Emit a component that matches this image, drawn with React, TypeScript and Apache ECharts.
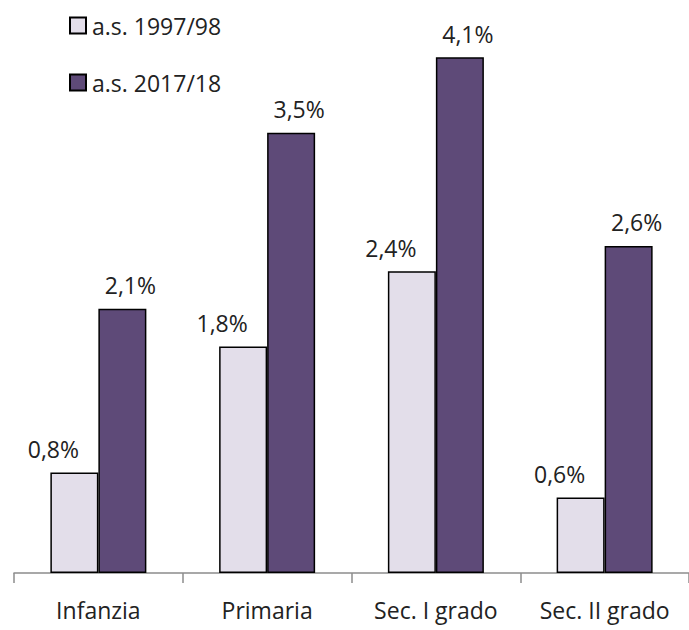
import React, { useEffect, useRef } from "react";
import * as echarts from "echarts";

const categories = ["Infanzia", "Primaria", "Sec. I grado", "Sec. II grado"];
const seriesNames = ["a.s. 1997/98", "a.s. 2017/18"];
const values1997 = [0.8, 1.8, 2.4, 0.6];
const values2017 = [2.1, 3.5, 4.1, 2.6];
const colors = ["#E3DEEA", "#5E4A78"];

const FONT = "'Open Sans', sans-serif";
const FS = 23;

export default function App() {
  const ref = useRef<HTMLDivElement>(null);
  useEffect(() => {
    if (!ref.current) return;
    const chart = echarts.init(ref.current, undefined, { renderer: "svg" });
    const fmt = (p: any) => String(p.value).replace(".", ",") + "%";
    const labelBase = {
      show: true,
      position: "top",
      distance: 12,
      fontFamily: FONT,
      fontSize: FS,
      color: "#222",
      formatter: fmt,
    };
    chart.setOption({
      animation: false,
      legend: {
        orient: "vertical",
        left: 64,
        top: 9,
        itemWidth: 16,
        itemHeight: 16,
        itemGap: 34,
        icon: "rect",
        itemStyle: { borderColor: "#000", borderWidth: 2 },
        textStyle: { fontFamily: FONT, fontSize: FS, color: "#222", padding: [0, 0, 0, 1] },
        data: seriesNames,
      },
      grid: { left: 14, width: 676, top: 7, bottom: 57, containLabel: false },
      xAxis: {
        type: "category",
        data: categories,
        axisLine: { lineStyle: { color: "#8c8c8c", width: 1.5 } },
        axisTick: { show: true, interval: 0, length: 10, lineStyle: { color: "#8c8c8c", width: 1.5 } },
        axisLabel: { interval: 0, hideOverlap: false, fontFamily: FONT, fontSize: FS, color: "#222", margin: 25 },
      },
      yAxis: {
        type: "value",
        min: 0,
        max: 4.5,
        show: false,
        splitLine: { show: false },
      },
      series: [
        {
          name: seriesNames[0],
          type: "bar",
          data: values1997,
          barWidth: 48,
          barGap: "0%",
          itemStyle: { color: colors[0], borderColor: "#000", borderWidth: 1.5 },
          label: { ...labelBase, offset: [-21, 0] },
        },
        {
          name: seriesNames[1],
          type: "bar",
          data: values2017,
          barWidth: 48,
          barGap: "0%",
          itemStyle: { color: colors[1], borderColor: "#000", borderWidth: 1.5 },
          label: { ...labelBase, offset: [8, 0] },
        },
      ],
    });
    return () => chart.dispose();
  }, []);
  return <div ref={ref} style={{ width: 689, height: 630, position: "absolute", left: 0, top: 0 }} />;
}
